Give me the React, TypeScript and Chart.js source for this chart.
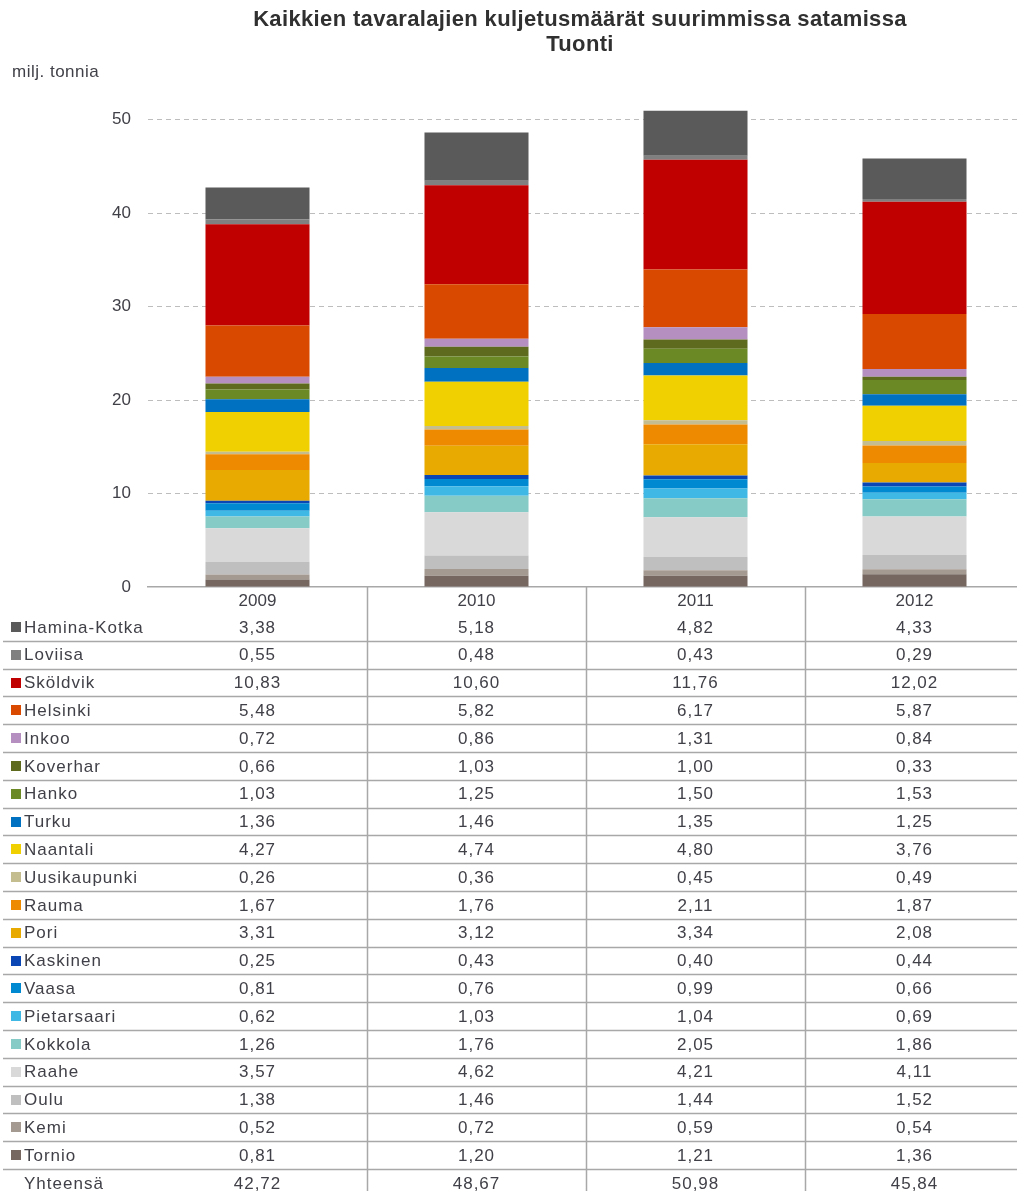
import { useEffect, useRef } from "react";
import { Chart, registerables } from "chart.js";

Chart.register(...registerables);

// Years shown on the category axis and as table columns
const years = ["2009", "2010", "2011", "2012"];

// Imports per port, million tonnes (table order: top of the stack first)
const haminaKotka = [3.38, 5.18, 4.82, 4.33];
const loviisa = [0.55, 0.48, 0.43, 0.29];
const skoldvik = [10.83, 10.6, 11.76, 12.02];
const helsinki = [5.48, 5.82, 6.17, 5.87];
const inkoo = [0.72, 0.86, 1.31, 0.84];
const koverhar = [0.66, 1.03, 1.0, 0.33];
const hanko = [1.03, 1.25, 1.5, 1.53];
const turku = [1.36, 1.46, 1.35, 1.25];
const naantali = [4.27, 4.74, 4.8, 3.76];
const uusikaupunki = [0.26, 0.36, 0.45, 0.49];
const rauma = [1.67, 1.76, 2.11, 1.87];
const pori = [3.31, 3.12, 3.34, 2.08];
const kaskinen = [0.25, 0.43, 0.4, 0.44];
const vaasa = [0.81, 0.76, 0.99, 0.66];
const pietarsaari = [0.62, 1.03, 1.04, 0.69];
const kokkola = [1.26, 1.76, 2.05, 1.86];
const raahe = [3.57, 4.62, 4.21, 4.11];
const oulu = [1.38, 1.46, 1.44, 1.52];
const kemi = [0.52, 0.72, 0.59, 0.54];
const tornio = [0.81, 1.2, 1.21, 1.36];

// Totals as published in the table
const totals = [42.72, 48.67, 50.98, 45.84];

// Value axis tick labels
const yTicks = [0, 10, 20, 30, 40, 50];

const portNames = [
  "Hamina-Kotka", "Loviisa", "Sköldvik", "Helsinki", "Inkoo", "Koverhar",
  "Hanko", "Turku", "Naantali", "Uusikaupunki", "Rauma", "Pori", "Kaskinen",
  "Vaasa", "Pietarsaari", "Kokkola", "Raahe", "Oulu", "Kemi", "Tornio",
];
const portValues = [
  haminaKotka, loviisa, skoldvik, helsinki, inkoo, koverhar, hanko, turku,
  naantali, uusikaupunki, rauma, pori, kaskinen, vaasa, pietarsaari, kokkola,
  raahe, oulu, kemi, tornio,
];
const portColors = [
  "#5a5a5a", "#808080", "#c00000", "#d94a00", "#b48fc0", "#5e6a1e",
  "#6b8a26", "#0070c0", "#f0d000", "#c4bd8f", "#ee8a00", "#e8aa00",
  "#0a46b4", "#0088d0", "#40b8e6", "#86cbc6", "#d9d9d9", "#bfbfbf",
  "#a59a91", "#766860",
];

const TITLE_1 = "Kaikkien tavaralajien kuljetusmäärät suurimmissa satamissa";
const TITLE_2 = "Tuonti";
const UNIT = "milj. tonnia";
const TOTAL_LABEL = "Yhteensä";

const FONT = "'Liberation Sans', Arial, sans-serif";
const TEXT = "#404048";
const LINE = "#a8a8a8";

const CANVAS_W = 1024;
const CANVAS_H = 1191;
const AXIS_H = 26;
const ROW_H = 27.8;

const fmt = (v: number) => v.toFixed(2).replace(".", ",");

// Title, unit label and the data table under the category axis
const tablePlugin = {
  id: "dataTable",
  afterDraw(chart: any) {
    const { ctx, chartArea } = chart;
    const xs = chart.scales.x;
    const colW = (chartArea.right - chartArea.left) / years.length;
    const tableTop = chartArea.bottom + AXIS_H;

    ctx.save();

    // Titles
    ctx.fillStyle = "#303030";
    ctx.textAlign = "center";
    ctx.textBaseline = "middle";
    ctx.font = `bold 22px ${FONT}`;
    (ctx as any).letterSpacing = "0.35px";
    ctx.fillText(TITLE_1, 580, 20);
    ctx.fillText(TITLE_2, 580, 45);

    ctx.font = `17px ${FONT}`;
    (ctx as any).letterSpacing = "0.5px";
    ctx.fillStyle = TEXT;
    ctx.textAlign = "left";
    ctx.fillText(UNIT, 12, 72);

    // Column separators
    ctx.strokeStyle = LINE;
    ctx.lineWidth = 1.5;
    for (let i = 1; i < years.length; i++) {
      const x = Math.round(chartArea.left + i * colW) + 0.5;
      ctx.beginPath();
      ctx.moveTo(x, chartArea.bottom);
      ctx.lineTo(x, CANVAS_H);
      ctx.stroke();
    }

    // Row separators
    for (let k = 0; k < portNames.length; k++) {
      const y = Math.round(tableTop + (k + 1) * ROW_H) + 0.5;
      ctx.beginPath();
      ctx.moveTo(3, y);
      ctx.lineTo(CANVAS_W, y);
      ctx.stroke();
    }

    ctx.font = `17px ${FONT}`;
    (ctx as any).letterSpacing = "1px";
    ctx.textBaseline = "middle";

    const rows = portNames.length + 1;
    for (let k = 0; k < rows; k++) {
      const yc = tableTop + (k + 0.5) * ROW_H;
      const isTotal = k === portNames.length;
      const name = isTotal ? TOTAL_LABEL : portNames[k];
      const vals = isTotal ? totals : portValues[k];
      if (!isTotal) {
        ctx.fillStyle = portColors[k];
        ctx.fillRect(11, Math.round(yc - 5), 10, 10);
      }
      ctx.fillStyle = TEXT;
      ctx.textAlign = "left";
      ctx.fillText(name, 24, yc + 1);
      ctx.textAlign = "center";
      vals.forEach((v: number, i: number) => {
        ctx.fillText(fmt(v), xs.getPixelForValue(i), yc + 1);
      });
    }
    ctx.restore();
  },
};

export default function App() {
  const ref = useRef<HTMLCanvasElement | null>(null);

  useEffect(() => {
    if (!ref.current) return;
    // Bottom of the stack first: Tornio ... Hamina-Kotka
    const datasets = portNames
      .map((name, i) => ({
        label: name,
        data: portValues[i],
        backgroundColor: portColors[i],
        borderWidth: 0,
        barPercentage: 0.475,
        categoryPercentage: 1,
      }))
      .reverse();

    const chart = new Chart(ref.current, {
      type: "bar",
      data: { labels: years, datasets },
      options: {
        responsive: false,
        animation: false,
        devicePixelRatio: 1,
        layout: { padding: { top: 101, bottom: CANVAS_H - 587 - AXIS_H, left: 0, right: 0 } },
        plugins: {
          legend: { display: false },
          tooltip: { enabled: false },
          title: { display: false },
        },
        scales: {
          x: {
            stacked: true,
            grid: { display: false, drawTicks: false },
            border: { display: true, color: LINE, width: 1.5 },
            ticks: { color: TEXT, font: { family: FONT, size: 17 }, padding: 4 },
            afterFit: (s: any) => {
              s.height = AXIS_H;
            },
          },
          y: {
            stacked: true,
            min: 0,
            max: 52,
            ticks: { stepSize: 10, color: TEXT, font: { family: FONT, size: 17 }, padding: 17 },
            grid: {
              drawTicks: false,
              color: (c: any) => (c.tick && c.tick.value === 0 ? "rgba(0,0,0,0)" : "#bdbdbd"),
              lineWidth: 1,
            },
            border: { display: false, dash: [5, 4] },
            afterBuildTicks: (s: any) => {
              s.ticks = yTicks.map((v) => ({ value: v }));
            },
            afterFit: (s: any) => {
              s.width = 148;
            },
          },
        },
      },
      plugins: [tablePlugin],
    } as any);
    return () => chart.destroy();
  }, []);

  return (
    <div
      style={{
        position: "absolute",
        left: 0,
        top: 0,
        width: 1017,
        height: CANVAS_H,
        overflow: "hidden",
        background: "#fff",
      }}
    >
      <canvas ref={ref} width={CANVAS_W} height={CANVAS_H} style={{ display: "block" }} />
    </div>
  );
}
